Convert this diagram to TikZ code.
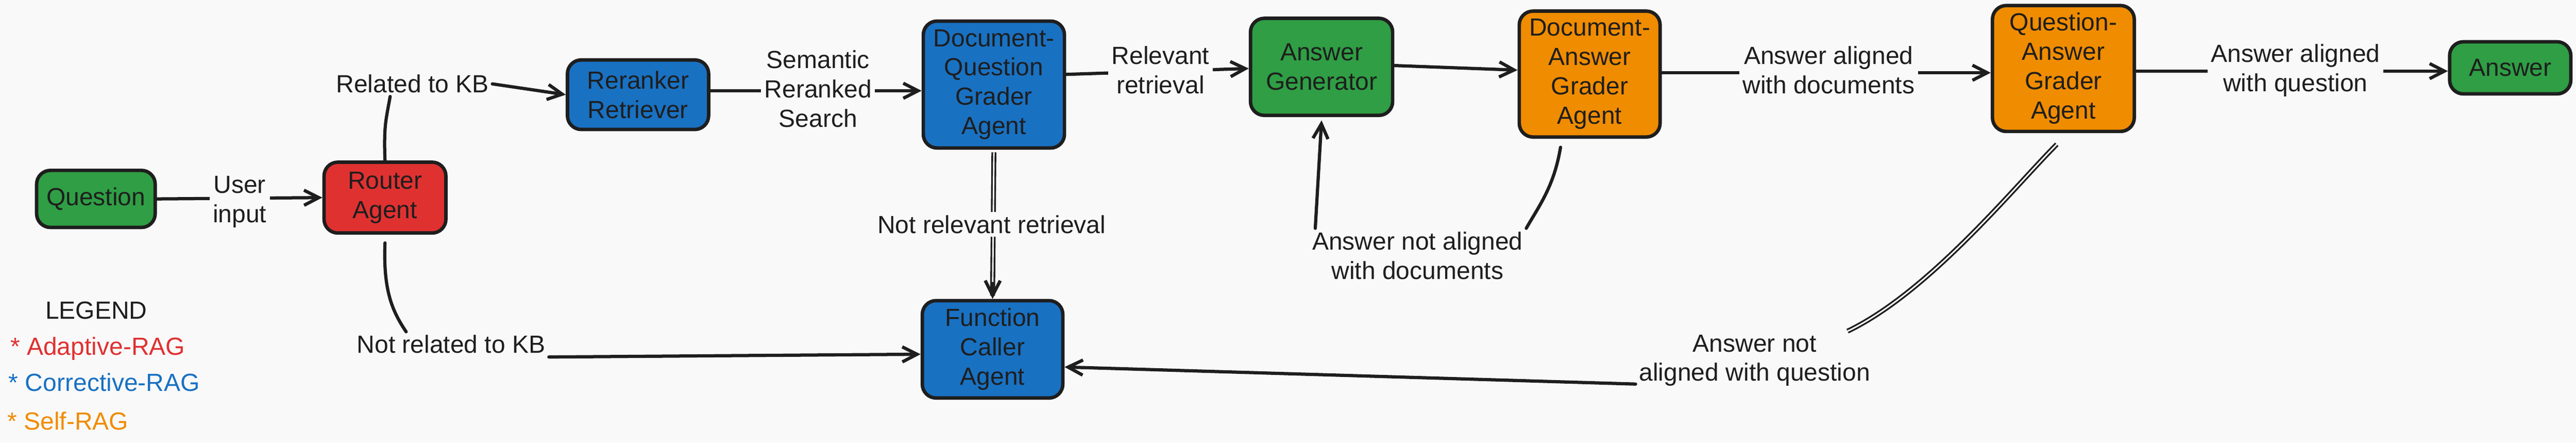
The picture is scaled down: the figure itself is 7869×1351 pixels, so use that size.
\documentclass[tikz,border=0pt]{standalone}
\usepackage{fontspec}
\setmainfont{Liberation Sans}
\usetikzlibrary{arrows.meta,calc}
\definecolor{bg}{HTML}{F9F9F9}
\definecolor{ink}{HTML}{1E1E1E}
\definecolor{xgreen}{HTML}{2F9E44}
\definecolor{xred}{HTML}{E03131}
\definecolor{xblue}{HTML}{1971C2}
\definecolor{xorange}{HTML}{F08C00}
\tikzset{
  txt/.style={font=\fontsize{21.5}{25.5}\selectfont, text=ink, align=center},
  box/.style={txt, draw=ink, line width=3pt, rounded corners=0.42cm, inner sep=0pt},
  gbox/.style={box, fill=xgreen},
  rbox/.style={box, fill=xred},
  bbox/.style={box, fill=xblue},
  obox/.style={box, fill=xorange},
  lbl/.style={txt, fill=bg, inner sep=0.1cm},
  conn/.style={draw=ink, line width=2.8pt, line cap=round},
  arr/.style={conn, -{Straight Barb[length=0.45cm,width=0.46cm]}},
  dbl/.style={draw=ink, line width=1.5pt, double=bg, double distance=1.3pt},
  legtxt/.style={font=\fontsize{21.5}{25.5}\selectfont, inner sep=0pt, anchor=west}
}
\begin{document}
\begin{tikzpicture}[x=0.01cm,y=-0.01cm]
\fill[bg] (0,0) rectangle (7869,1351);
\useasboundingbox (0,0) rectangle (7869,1351);

% boxes
\node[gbox, minimum width=3.62cm, minimum height=1.74cm] (q) at (293,607) {Question};
\node[rbox, minimum width=3.72cm, minimum height=2.16cm] (router) at (1176,603) {Router\\Agent};
\node[bbox, minimum width=4.31cm, minimum height=2.12cm] (rr) at (1949,289) {Reranker\\Retriever};
\node[bbox, minimum width=4.31cm, minimum height=3.87cm] (dq) at (3036,258) {Document-\\Question\\Grader\\Agent};
\node[bbox, minimum width=4.29cm, minimum height=2.97cm] (fc) at (3032,1066) {Function\\Caller\\Agent};
\node[gbox, minimum width=4.34cm, minimum height=2.96cm] (ag) at (4037,204) {Answer\\Generator};
\node[obox, minimum width=4.30cm, minimum height=3.84cm] (dag) at (4856,226) {Document-\\Answer\\Grader\\Agent};
\node[obox, minimum width=4.33cm, minimum height=3.84cm] (qag) at (6303,209) {Question-\\Answer\\Grader\\Agent};
\node[gbox, minimum width=3.70cm, minimum height=1.59cm] (ans) at (7668,207) {Answer};

% Question -> Router
\draw[arr] (q.east) -- (router.west);
\node[lbl] (lui) at (732,616) {User\\input};

% Router -> Reranker
\node[lbl] (lkb) at (1260,256) {Related to KB};
\draw[conn] (router.north) .. controls +(-4,-110) and +(-12,70) .. ($(lkb.south west)!0.36!(lkb.south east)$);
\draw[arr] (lkb.east) -- (rr.west);

% Router -> Function Caller
\node[lbl] (lnkb) at (1378,1051) {Not related to KB};
\draw[conn] ([yshift=-0.25cm]router.south) .. controls +(-6,150) and +(-40,-60) .. ($(lnkb.north west)!0.27!(lnkb.north east)$);
\draw[arr] (lnkb.south east) -- ([yshift=-0.15cm]fc.west);

% Reranker -> DQ grader
\draw[arr] ([yshift=0.12cm]rr.east) -- ([yshift=0.12cm]rr.east -| dq.west);
\node[lbl] (lsrs) at (2499,271) {Semantic\\Reranked\\Search};

% DQ grader -> Function Caller (double stroke, single tip)
\draw[dbl, shorten >=0.1cm] ([yshift=-0.08cm]dq.south) -- (fc.north);
\draw[arr, shorten <=4.0cm] ([yshift=-0.08cm]dq.south) -- (fc.north);
\node[lbl] (lnrr) at (3029,685) {Not relevant retrieval};

% DQ grader -> Answer Generator
\draw[arr] ([yshift=0.31cm]dq.east) -- ([yshift=-0.05cm]ag.west);
\node[lbl] (lrr) at (3545,213) {Relevant\\retrieval};

% Answer Generator -> DA grader
\draw[arr] ([yshift=0.04cm]ag.east) -- ([yshift=0.12cm]dag.west);

% DA grader -> Answer Generator
\node[lbl] (lnad) at (4330,780) {Answer not aligned\\with documents};
\draw[conn] ([xshift=-0.89cm,yshift=-0.26cm]dag.south) .. controls +(-20,120) and +(40,-70) .. (lnad.north east);
\draw[arr] ([xshift=0.2cm]lnad.north west) -- ([yshift=-0.1cm]ag.south);

% DA grader -> QA grader
\draw[arr] ([yshift=0.04cm]dag.east) -- ([yshift=0.04cm]dag.east -| qag.west);
\node[lbl] (lad) at (5586,213) {Answer aligned\\with documents};

% QA grader -> Function Caller
\node[lbl] (lnaq) at (5360,1100) {Answer not\\aligned with question};
\draw[dbl] ([xshift=-0.2cm,yshift=-0.34cm]qag.south) .. controls +(-130,130) and +(250,-120) .. ($(lnaq.north west)!0.89!(lnaq.north east)$);
\draw[arr] ([yshift=-0.72cm]lnaq.west) -- ([yshift=-0.54cm]fc.east);

% QA grader -> Answer
\draw[arr] ([yshift=-0.08cm]qag.east) -- ([yshift=-0.08cm]qag.east -| ans.west);
\node[lbl] (laq) at (7012,215) {Answer aligned\\with question};

% legend
\node[txt, inner sep=0pt] (leg) at (294,948) {LEGEND};
\node[legtxt, text=xred] (l1) at (31,1064) {* Adaptive-RAG};
\node[legtxt, text=xblue] (l2) at (26,1167) {* Corrective-RAG};
\node[legtxt, text=xorange] (l3) at (22,1284) {* Self-RAG};
\end{tikzpicture}
\end{document}
